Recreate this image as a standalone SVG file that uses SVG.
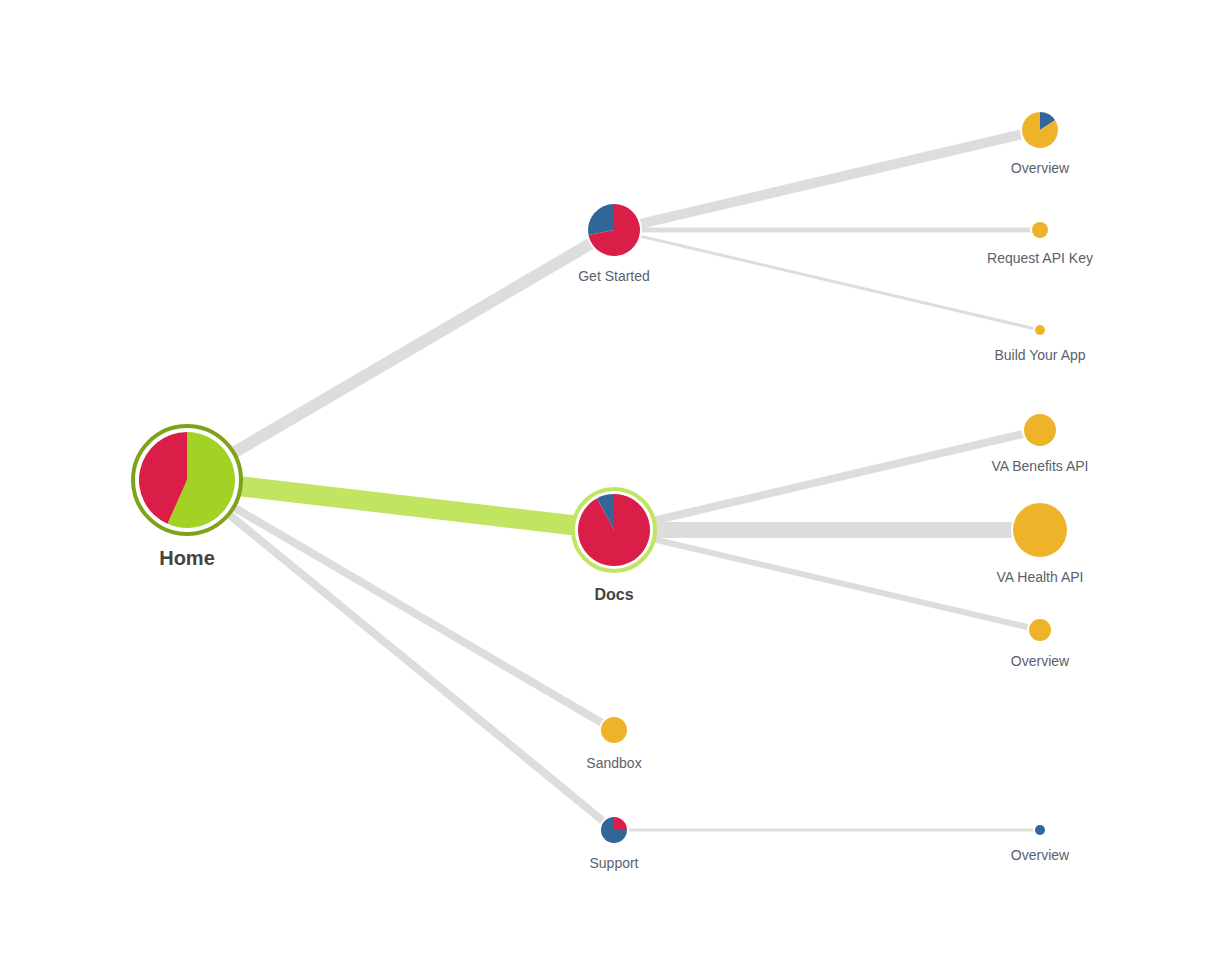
<svg xmlns="http://www.w3.org/2000/svg" width="1227" height="960" viewBox="0 0 1227 960">
<style>
.lk{stroke:#dddddd;fill:none;stroke-linecap:butt}
.lbl{font-family:"Liberation Sans",Arial,sans-serif;font-size:14px;fill:#5b616b;text-anchor:middle}
.big{font-family:"Liberation Sans",Arial,sans-serif;font-weight:bold;fill:#444444;text-anchor:middle}
.red{fill:#db1e47}.grn{fill:#a2d224}.blu{fill:#326699}.yel{fill:#efb32a}
.halo{fill:#ffffff}
</style>
<rect width="1227" height="960" fill="#ffffff"/>
<g id="connectors">
<line class="lk" x1="187" y1="480" x2="614" y2="230" stroke-width="12"/>
<line x1="187" y1="480" x2="614" y2="530" stroke="#c1e461" stroke-width="20"/>
<line class="lk" x1="187" y1="480" x2="614" y2="730" stroke-width="8"/>
<line class="lk" x1="187" y1="480" x2="614" y2="830" stroke-width="8"/>
<line class="lk" x1="614" y1="230" x2="1040" y2="130" stroke-width="10"/>
<line class="lk" x1="614" y1="230" x2="1040" y2="230" stroke-width="5"/>
<line class="lk" x1="614" y1="230" x2="1040" y2="330" stroke-width="3"/>
<line class="lk" x1="614" y1="530" x2="1040" y2="430" stroke-width="8"/>
<line class="lk" x1="614" y1="530" x2="1040" y2="530" stroke-width="16"/>
<line class="lk" x1="614" y1="530" x2="1040" y2="630" stroke-width="6"/>
<line class="lk" x1="614" y1="830" x2="1040" y2="830" stroke-width="3"/>
</g>
<g id="node-home">
<circle cx="187" cy="480" r="54" fill="#ffffff" stroke="#7ea31b" stroke-width="4"/>
<path class="grn" d="M187,480 L187,432 A48,48 0 1 1 167.48,523.85 Z"/>
<path class="red" d="M187,480 L167.48,523.85 A48,48 0 0 1 187,432 Z"/>
<text class="big" x="187" y="565" font-size="20">Home</text>
</g>
<g id="node-get-started">
<circle class="halo" cx="614" cy="230" r="28"/>
<path class="red" d="M614,230 L614,204 A26,26 0 1 1 588.48,234.96 Z"/>
<path class="blu" d="M614,230 L588.48,234.96 A26,26 0 0 1 614,204 Z"/>
<text class="lbl" x="614" y="281">Get Started</text>
</g>
<g id="node-docs">
<circle cx="614" cy="530" r="41" fill="#ffffff" stroke="#c1e461" stroke-width="4"/>
<path class="red" d="M614,530 L614,494 A36,36 0 1 1 597.1,498.22 Z"/>
<path class="blu" d="M614,530 L597.1,498.22 A36,36 0 0 1 614,494 Z"/>
<text class="big" x="614" y="600" font-size="16">Docs</text>
</g>
<g id="node-sandbox">
<circle class="halo" cx="614" cy="730" r="15"/>
<circle class="yel" cx="614" cy="730" r="13"/>
<text class="lbl" x="614" y="768">Sandbox</text>
</g>
<g id="node-support">
<circle class="halo" cx="614" cy="830" r="15"/>
<path class="red" d="M614,830 L614,817 A13,13 0 0 1 627,830 Z"/>
<path class="blu" d="M614,830 L627,830 A13,13 0 1 1 614,817 Z"/>
<text class="lbl" x="614" y="868">Support</text>
</g>
<g id="node-overview-1">
<circle class="halo" cx="1040" cy="130" r="20"/>
<path class="blu" d="M1040,130 L1040,112 A18,18 0 0 1 1055.1,120.2 Z"/>
<path class="yel" d="M1040,130 L1055.1,120.2 A18,18 0 1 1 1040,112 Z"/>
<text class="lbl" x="1040" y="173">Overview</text>
</g>
<g id="node-request-api-key">
<circle class="halo" cx="1040" cy="230" r="10"/>
<circle class="yel" cx="1040" cy="230" r="8"/>
<text class="lbl" x="1040" y="263">Request API Key</text>
</g>
<g id="node-build-your-app">
<circle class="halo" cx="1040" cy="330" r="7"/>
<circle class="yel" cx="1040" cy="330" r="5"/>
<text class="lbl" x="1040" y="360">Build Your App</text>
</g>
<g id="node-va-benefits-api">
<circle class="halo" cx="1040" cy="430" r="18"/>
<circle class="yel" cx="1040" cy="430" r="16"/>
<text class="lbl" x="1040" y="471">VA Benefits API</text>
</g>
<g id="node-va-health-api">
<circle class="halo" cx="1040" cy="530" r="29"/>
<circle class="yel" cx="1040" cy="530" r="27"/>
<text class="lbl" x="1040" y="582">VA Health API</text>
</g>
<g id="node-overview-2">
<circle class="halo" cx="1040" cy="630" r="13"/>
<circle class="yel" cx="1040" cy="630" r="11"/>
<text class="lbl" x="1040" y="666">Overview</text>
</g>
<g id="node-overview-3">
<circle class="halo" cx="1040" cy="830" r="7"/>
<circle class="blu" cx="1040" cy="830" r="5"/>
<text class="lbl" x="1040" y="860">Overview</text>
</g>
</svg>
